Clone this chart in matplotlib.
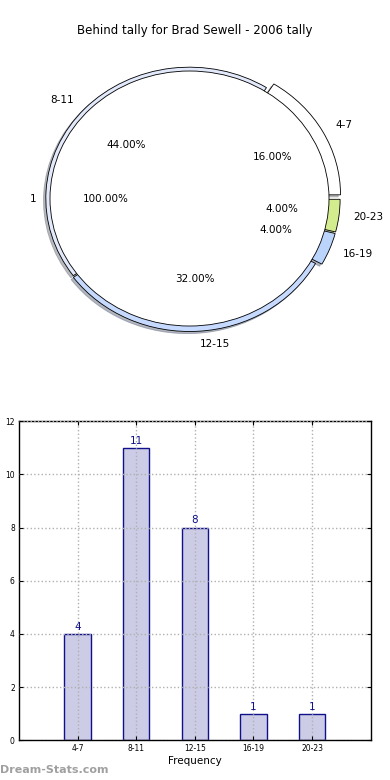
import matplotlib
matplotlib.use("Agg")
import matplotlib.pyplot as plt
import numpy as np

# data
categories = ["4-7", "8-11", "12-15", "16-19", "20-23"]
counts = [4, 11, 8, 1, 1]
inner_labels = ["1"]
inner_values = [25]
yticks = [0, 2, 4, 6, 8, 10, 12]

ring_colors = ["#ffffff", "#e2e9fb", "#c6daff", "#bad4fb", "#d3ec8e"]
ring_explode = [0.06, 0.0, 0.013, 0.05, 0.05]

fig = plt.figure(figsize=(3.9, 7.8), dpi=100)

# top: pie with ring of categories around a single 100% centre
ax1 = fig.add_axes([0.0209, 0.533, 0.930, 0.425])
soft_shadow = {"ox": -0.012, "oy": -0.012, "shade": 0.5}
wedges, texts, autotexts = ax1.pie(counts, labels=categories, colors=ring_colors,
                                    explode=ring_explode, radius=1.03, shadow=soft_shadow,
                                    autopct="%.2f%%", startangle=0,
                                    wedgeprops=dict(edgecolor="black", linewidth=0.6),
                                    textprops=dict(fontsize=7.5))
w2, t2, a2 = ax1.pie(inner_values, labels=inner_labels, colors=["white"],
                     radius=1.0, shadow=False, autopct="%.2f%%",
                     wedgeprops=dict(edgecolor="black", linewidth=0.6),
                     textprops=dict(fontsize=7.5))
ax1.set_aspect("auto")
ax1.set_xlim(-1.3, 1.3)
ax1.set_ylim(-1.3, 1.3)
ax1.axis("off")
fig.text(0.5, 0.961, "Behind tally for Brad Sewell - 2006 tally",
         ha="center", va="center", fontsize=8.5)

# bottom: bar chart
ax2 = fig.add_axes([0.0487, 0.0509, 0.9018, 0.409])
x = np.arange(len(categories))
ax2.bar(x, counts, width=0.45, color="#ccccE6", edgecolor="#10108c", linewidth=1.0)
for xi, v in zip(x, counts):
    ax2.text(xi, v + 0.08, str(v), ha="center", va="bottom", color="#10108c", fontsize=7.5)

ax2.set_xlim(-1, 5)
ax2.set_ylim(0, 12)
ax2.set_xticks(x)
ax2.set_xticklabels(categories)
ax2.set_yticks(yticks)
ax2.tick_params(direction="in", top=True, right=True, labelsize=5.5, length=3, pad=3)
ax2.grid(True, linestyle=":", color="#b0b0b0", linewidth=1.0)
ax2.set_axisbelow(False)
ax2.set_xlabel("Frequency", fontsize=7.5, labelpad=2)
# the reference clips this label at the left edge of the image
ax2.set_ylabel("Behind Intervals", fontsize=7.5)
ax2.yaxis.set_label_coords(-0.058, 0.5)
for s in ax2.spines.values():
    s.set_linewidth(1.0)

fig.text(0.0, 0.0125, "Dream-Stats.com", ha="left", va="center",
         fontsize=8, color="#a0a0a0", fontweight="bold")

plt.savefig("out.png", dpi=100)
